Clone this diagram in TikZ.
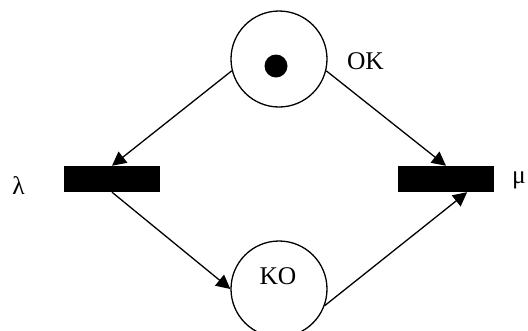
\documentclass[tikz,border=0pt]{standalone}
\usepackage{fontspec}
\setmainfont{Liberation Serif}
\usetikzlibrary{arrows.meta}
\begin{document}
\begin{tikzpicture}[x=1pt,y=-1pt,
  place/.style={circle,draw,line width=1.3pt,minimum size=96pt,inner sep=0pt},
  token/.style={circle,fill=black,minimum size=23pt,inner sep=0pt},
  trans/.style={rectangle,fill=black,minimum width=96pt,minimum height=26pt,inner sep=0pt},
  arc/.style={line width=1.3pt,-{Triangle[length=14pt,width=14pt]}},
  lbl/.style={font=\fontsize{25.5}{30}\selectfont,inner sep=0pt}]
\useasboundingbox (0,0) rectangle (528,330);
\node[place] (ok) at (279,59) {};
\node[token] (tok) at (276,66) {};
\node[lbl] (okl) at (365.5,61) {OK};
\node[trans] (l) at (112,179) {};
\node[trans] (m) at (446,179) {};
\node[place] (ko) at (279,289) {};
\node[lbl] (kol) at (278,276.5) {KO};
\node[lbl] (lam) at (18.5,186) {λ};
\node[lbl] (mu) at (519,180) {μ};
\draw[arc] (ok.194) -- (l.north);
\draw[arc] (l.south) -- (ko.west);
\draw[arc] (ok.346) -- (m.north);
\draw[arc] (ko.340) -- (m.-32);
\end{tikzpicture}
\end{document}
